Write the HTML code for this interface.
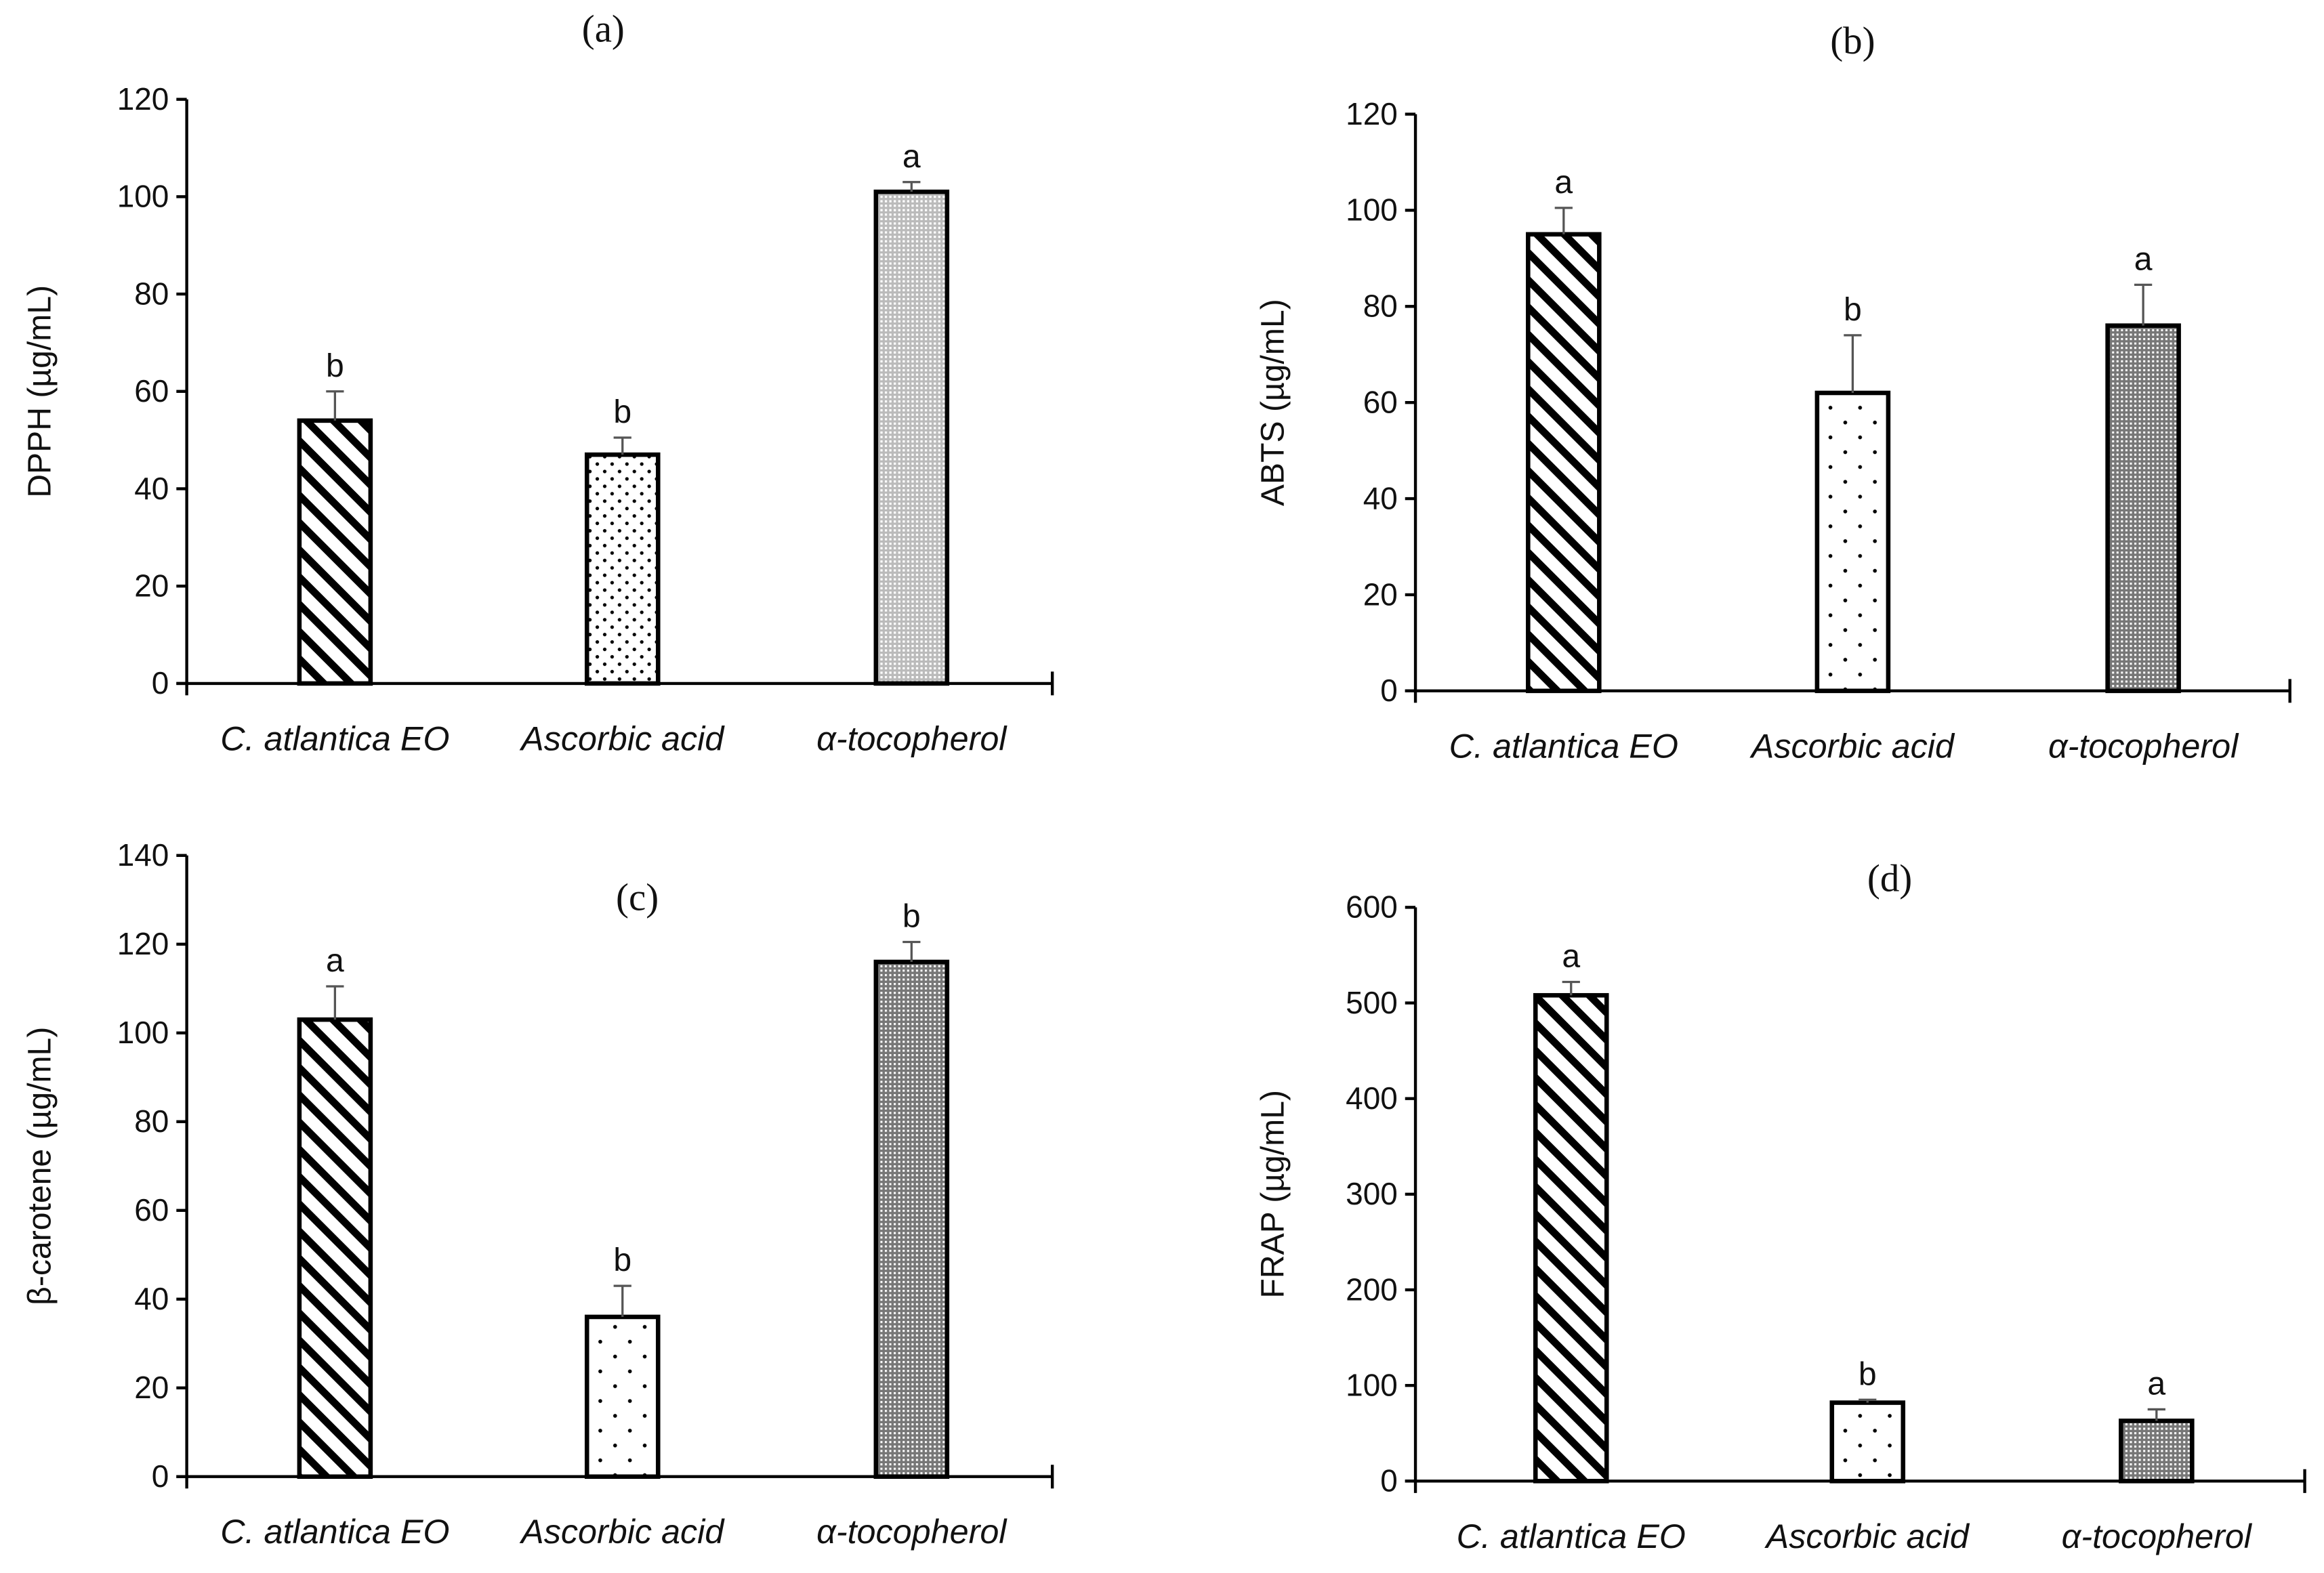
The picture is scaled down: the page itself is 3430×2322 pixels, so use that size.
<!DOCTYPE html>
<html><head><meta charset="utf-8"><style>
html,body{margin:0;padding:0;background:#fff;}
svg{display:block;}
text{font-family:"Liberation Sans",sans-serif;fill:#111;}
.tick{font-size:21px;}
.cat{font-size:23px;font-style:italic;}
.ttl{font-family:"Liberation Serif",serif;font-size:26px;}
.yt{font-size:22px;}
.sig{font-size:22px;}
</style></head><body>
<svg id="fig" width="3430" height="2322" viewBox="0 0 1568 1061" preserveAspectRatio="none" xmlns="http://www.w3.org/2000/svg">
<defs>
<pattern id="stripes" patternUnits="userSpaceOnUse" width="13" height="13" patternTransform="rotate(45)">
<rect width="13" height="13" fill="#fff"/><rect x="0" y="0" width="13" height="5" fill="#000"/></pattern>
<pattern id="dots" patternUnits="userSpaceOnUse" width="20" height="20">
<rect width="20" height="20" fill="#fff"/><circle cx="5" cy="5" r="1.3" fill="#000"/><circle cx="15" cy="15" r="1.3" fill="#000"/></pattern>
<pattern id="dots2" patternUnits="userSpaceOnUse" width="10" height="10">
<rect width="10" height="10" fill="#fff"/><circle cx="3" cy="3" r="1.2" fill="#000"/><circle cx="8" cy="8" r="1.2" fill="#000"/></pattern>
<pattern id="grid" patternUnits="userSpaceOnUse" width="3" height="3">
<rect width="3" height="3" fill="#bbb"/><rect width="1.5" height="1.5" fill="#fff"/></pattern>
<pattern id="grid2" patternUnits="userSpaceOnUse" width="3" height="3">
<rect width="3" height="3" fill="#777"/><rect width="1.4" height="1.4" fill="#fff"/></pattern>
</defs>
</svg>
<script>
const categories = ["C. atlantica EO", "Ascorbic acid", "α-tocopherol"];
const valuesA = [54, 47, 101];
const errorsA = [6, 3.5, 2];
const lettersA = ["b", "b", "a"];
const ticksA = [0, 20, 40, 60, 80, 100, 120];
const valuesB = [95, 62, 76];
const errorsB = [5.5, 12, 8.5];
const lettersB = ["a", "b", "a"];
const ticksB = [0, 20, 40, 60, 80, 100, 120];
const valuesC = [103, 36, 116];
const errorsC = [7.5, 7, 4.5];
const lettersC = ["a", "b", "b"];
const ticksC = [0, 20, 40, 60, 80, 100, 120, 140];
const valuesD = [508, 82, 63];
const errorsD = [14, 3, 12];
const lettersD = ["a", "b", "a"];
const ticksD = [0, 100, 200, 300, 400, 500, 600];

const NS = "http://www.w3.org/2000/svg";
const svg = document.getElementById("fig");
function mk(tag, attrs, parent, txt) {
  const e = document.createElementNS(NS, tag);
  for (const k in attrs) e.setAttribute(k, attrs[k]);
  if (txt !== undefined) e.textContent = txt;
  (parent || svg).appendChild(e);
  return e;
}
function panel(cfg, values, errors, letters, ticks) {
  const g = mk("g", {});
  
  
  const max = ticks[ticks.length - 1];
  const y = v => cfg.y0 - (v / max) * (cfg.y0 - cfg.yTop);
  const fills = [cfg.f0, cfg.f1, cfg.f2];
  values.forEach((v, i) => {
    const cx = cfg.cx[i];
    const r = mk("rect", {x: cx - cfg.bw / 2, y: y(v), width: cfg.bw, height: cfg.y0 - y(v), fill: fills[i], stroke: "#000", "stroke-width": 3}, g);
    
    
    const e = mk("path", {d: `M${cx} ${y(v)}V${y(v + errors[i])}M${cx - 6} ${y(v + errors[i])}H${cx + 6}`, stroke: "#555", "stroke-width": 1.5, fill: "none"}, g);
    
    
    const t = mk("text", {x: cx, y: y(v + errors[i]) - 10, "text-anchor": "middle", class: "sig"}, g, letters[i]);
    
    
    const c = mk("text", {x: cx, y: cfg.y0 + 45, "text-anchor": "middle", class: "cat"}, g, categories[i]);
    
    
  });
  const ya = mk("path", {d: `M${cfg.x0} ${cfg.yTop}V${cfg.y0}`, stroke: "#000", "stroke-width": 2, fill: "none"}, g);
  
  
  const xa = mk("path", {d: `M${cfg.x0 - 7} ${cfg.y0}H${cfg.x1}M${cfg.x0} ${cfg.y0}V${cfg.y0 + 8}M${cfg.x1} ${cfg.y0 - 8}V${cfg.y0 + 8}`, stroke: "#000", "stroke-width": 2, fill: "none"}, g);
  
  
  ticks.forEach(t => {
    mk("path", {d: `M${cfg.x0 - 7} ${y(t)}H${cfg.x0}`, stroke: "#000", "stroke-width": 2}, g);
    const tl = mk("text", {x: cfg.x0 - 12, y: y(t) + 7, "text-anchor": "end", class: "tick"}, g, t);
    
    
  });
  const yt = mk("text", {x: 0, y: 0, "text-anchor": "middle", class: "yt", transform: `translate(${cfg.ytx},${(cfg.y0 + cfg.yTop) / 2}) rotate(-90)`}, g, cfg.ytitle);
  
  
  const tt = mk("text", {x: cfg.tx, y: cfg.ty, "text-anchor": "middle", class: "ttl"}, g, cfg.title);
  
  
}
panel({id: "a", x0: 126, x1: 710, y0: 461, yTop: 67, bw: 48, cx: [226, 420, 615], f0: "url(#stripes)", f1: "url(#dots2)", f2: "url(#grid)", ytitle: "DPPH (µg/mL)", ytx: 34, title: "(a)", tx: 407, ty: 28}, valuesA, errorsA, lettersA, ticksA);
panel({id: "b", x0: 955, x1: 1545, y0: 466, yTop: 77, bw: 48, cx: [1055, 1250, 1446], f0: "url(#stripes)", f1: "url(#dots)", f2: "url(#grid2)", ytitle: "ABTS (µg/mL)", ytx: 866, title: "(b)", tx: 1250, ty: 36}, valuesB, errorsB, lettersB, ticksB);
panel({id: "c", x0: 126, x1: 710, y0: 996, yTop: 577, bw: 48, cx: [226, 420, 615], f0: "url(#stripes)", f1: "url(#dots)", f2: "url(#grid2)", ytitle: "β-carotene (µg/mL)", ytx: 34, title: "(c)", tx: 430, ty: 614}, valuesC, errorsC, lettersC, ticksC);
panel({id: "d", x0: 955, x1: 1555, y0: 999, yTop: 612, bw: 48, cx: [1060, 1260, 1455], f0: "url(#stripes)", f1: "url(#dots)", f2: "url(#grid2)", ytitle: "FRAP (µg/mL)", ytx: 866, title: "(d)", tx: 1275, ty: 601}, valuesD, errorsD, lettersD, ticksD);
</script>
</body></html>
